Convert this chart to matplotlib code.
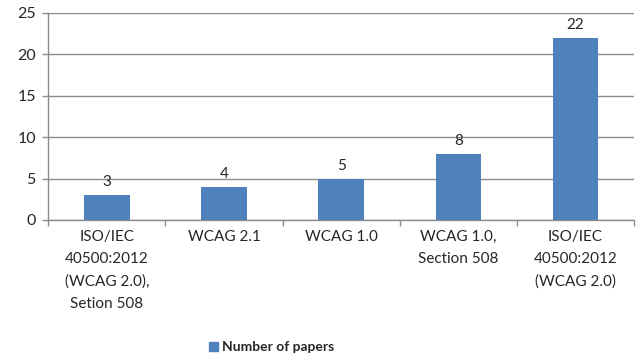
import matplotlib.pyplot as plt
from matplotlib.patches import Patch

plt.rcParams['font.family'] = ['Lato', 'DejaVu Sans']

# standards cited by the papers and how many papers used each
standards = ['ISO/IEC\n40500:2012\n(WCAG 2.0),\nSetion 508',
             'WCAG 2.1',
             'WCAG 1.0',
             'WCAG 1.0,\nSection 508',
             'ISO/IEC\n40500:2012\n(WCAG 2.0)']
papers = [3, 4, 5, 8, 22]
yticks = [0, 5, 10, 15, 20, 25]

bar_color = '#4F81BD'
grid_color = '#8c8c8c'
text_color = '#262626'

fig = plt.figure(figsize=(6.36, 3.6), dpi=100)
ax = fig.add_axes([0.076, 0.389, 0.921, 0.575])

x = list(range(len(papers)))
bars = ax.bar(x, papers, width=0.39, color=bar_color, zorder=3)

# value labels above each bar
for xi, v in zip(x, papers):
    ax.text(xi, v + 0.7, str(v), ha='center', va='bottom',
            fontsize=11, color=text_color)

ax.set_xlim(-0.5, len(papers) - 0.5)
ax.set_ylim(0, 25)
ax.set_yticks(yticks)
ax.tick_params(axis='y', labelsize=11.5, colors=text_color, length=4,
               width=1, color=grid_color, pad=5)

# category labels, ticks sit between the categories
ax.set_xticks(x)
ax.set_xticklabels(standards, fontsize=11, color=text_color, linespacing=1.75)
ax.tick_params(axis='x', length=0, pad=7)
ax.set_xticks([i + 0.5 for i in x[:-1]] + [-0.5, len(papers) - 0.5], minor=True)
ax.tick_params(axis='x', which='minor', length=4, width=1, color=grid_color)

ax.yaxis.grid(True, color=grid_color, linewidth=1, zorder=0)
for side in ['top', 'right']:
    ax.spines[side].set_visible(False)
for side in ['left', 'bottom']:
    ax.spines[side].set_color(grid_color)
    ax.spines[side].set_linewidth(1)

fig.legend(handles=[Patch(color=bar_color, label='Number of papers')],
           loc='center', bbox_to_anchor=(0.427, 0.036), frameon=False,
           handlelength=0.6, handleheight=0.6, handletextpad=0.3,
           prop={'size': 10, 'weight': 'bold'}, labelcolor=text_color)

fig.savefig('out.png', dpi=100)
